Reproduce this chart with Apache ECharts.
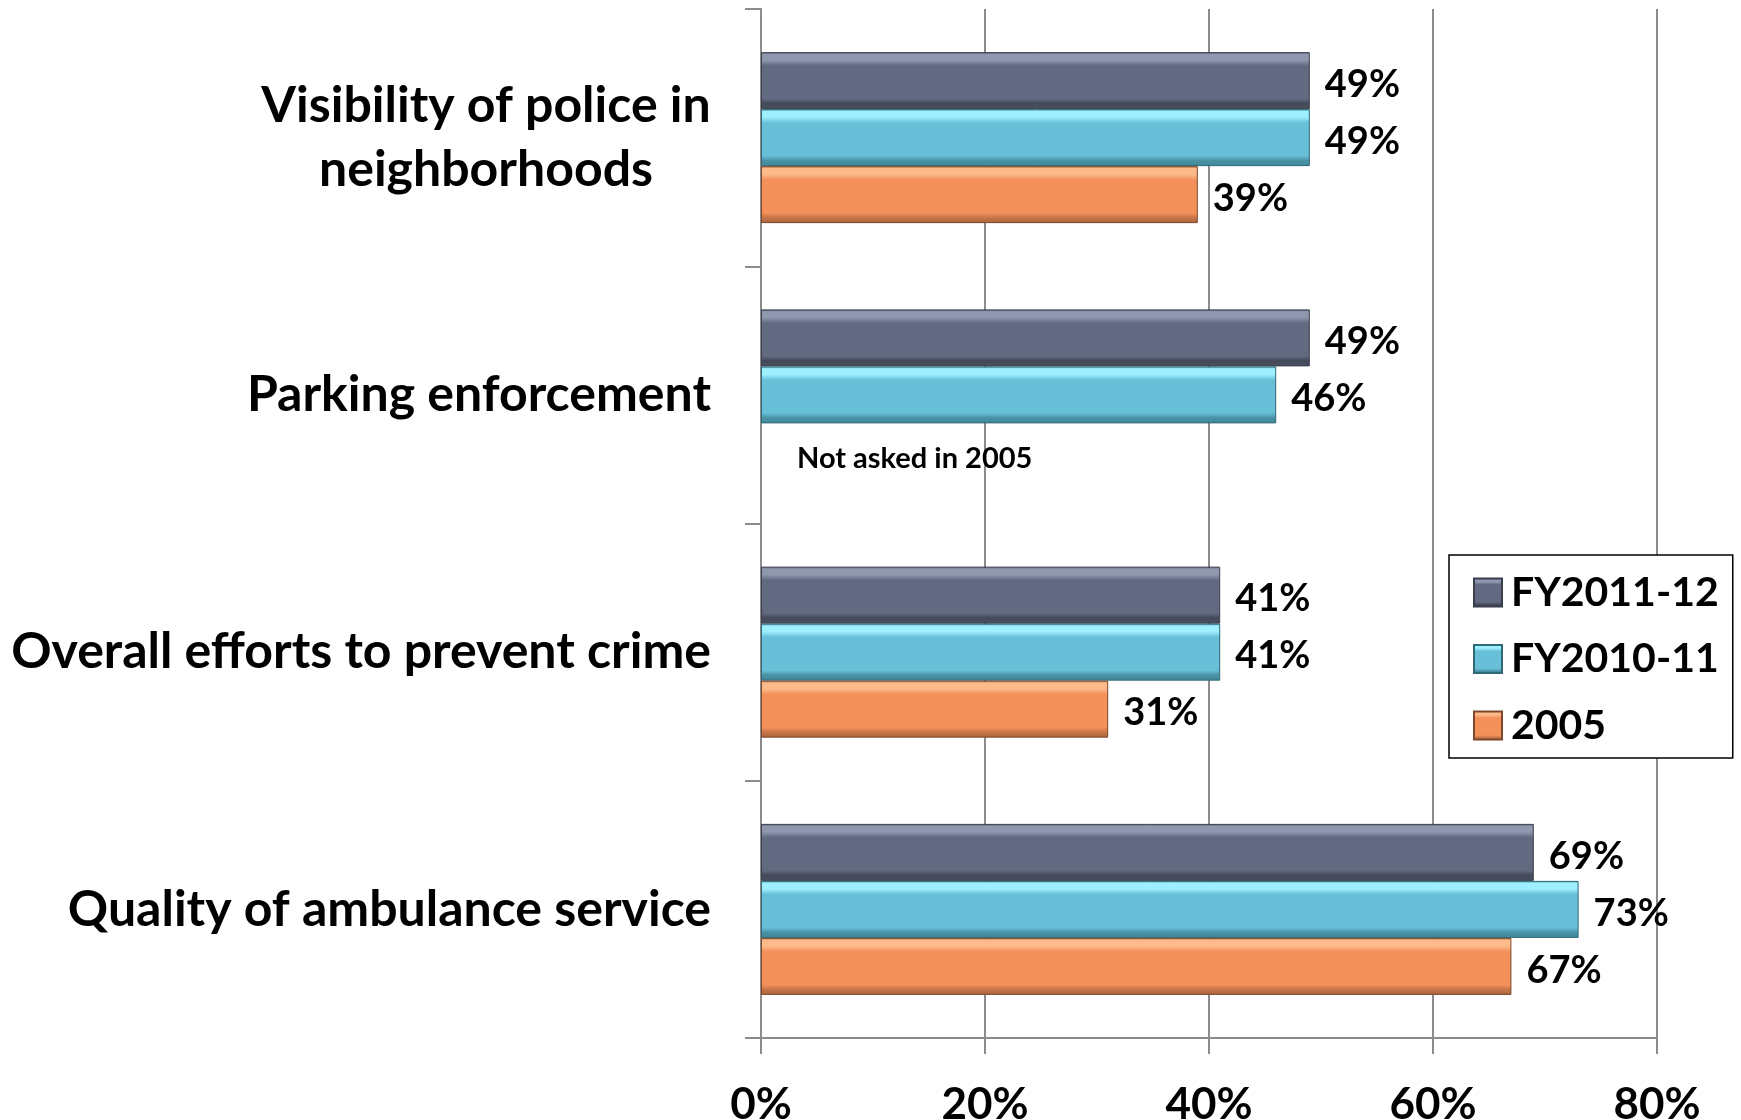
<!DOCTYPE html>
<html>
<head>
<meta charset="utf-8">
<script src="https://cdn.jsdelivr.net/npm/echarts@6/dist/echarts.min.js"></script>
<style>
  html, body { margin: 0; padding: 0; background: #fff; }
  #main { width: 1741px; height: 1120px; }
</style>
</head>
<body>
<div id="main"></div>
<script>
const categories = [
  "Visibility of police in\nneighborhoods",
  "Parking enforcement",
  "Overall efforts to prevent crime",
  "Quality of ambulance service"
];
const seriesNames = ["FY2011-12", "FY2010-11", "2005"];
const fy2011 = [49, 49, 41, 69];
const fy2010 = [49, 46, 41, 73];
const y2005 = [39, null, 31, 67];
const noteText = "Not asked in 2005";

const FONT = "Lato";
const catFontSize = 50;

// width of the first label line, so the wrapped lines get centred on each other
const ctx = document.createElement("canvas").getContext("2d");
ctx.font = "bold " + catFontSize + "px " + FONT;
const firstLineW = Math.ceil(ctx.measureText(categories[0].split("\n")[0]).width);

function bevel(edge, light, base, dark) {
  return new echarts.graphic.LinearGradient(0, 0, 0, 1, [
    { offset: 0, color: edge },
    { offset: 0.04, color: light },
    { offset: 0.14, color: light },
    { offset: 0.24, color: base },
    { offset: 0.82, color: base },
    { offset: 0.9, color: dark },
    { offset: 1, color: edge }
  ]);
}

const colors = [
  bevel("#4a5162", "#9098b0", "#616a80", "#434959"),
  bevel("#3f8799", "#9eefff", "#68bfd8", "#4a93a6"),
  bevel("#a8643c", "#fdbb8c", "#f4915a", "#c9764a")
];
const edgeColors = ["#3a3f4c", "#2f6877", "#7d4729"];

let mychart = echarts.init(document.getElementById("main"));

function makeSeries(i, data) {
  return {
    name: seriesNames[i],
    type: "bar",
    barWidth: 57,
    barGap: "0%",
    itemStyle: {
      color: colors[i],
      borderColor: edgeColors[i],
      borderWidth: 1
    },
    label: {
      show: true,
      position: "right",
      distance: 15,
      offset: [0, 4],
      formatter: "{c}%",
      color: "#000",
      fontFamily: FONT,
      fontWeight: "bold",
      fontSize: 38
    },
    data: data
  };
}

mychart.setOption({
  animation: false,
  backgroundColor: "#fff",
  grid: {
    left: 761,
    right: 84,
    top: 9,
    bottom: 82,
    containLabel: false,
    outerBoundsMode: "none"
  },
  legend: {
    orient: "vertical",
    left: 1449,
    top: 555,
    padding: [17, 14, 12, 24],
    itemGap: 25.5,
    itemWidth: 28,
    itemHeight: 28,
    icon: "rect",
    backgroundColor: "#fff",
    borderColor: "#000",
    borderWidth: 1.5,
    borderRadius: 0,
    data: seriesNames,
    textStyle: {
      color: "#000",
      fontFamily: FONT,
      fontWeight: "bold",
      fontSize: 41,
      lineHeight: 40,
      padding: [0, 0, 0, 4]
    }
  },
  xAxis: {
    type: "value",
    min: 0,
    max: 80,
    interval: 20,
    axisLine: { show: true, lineStyle: { color: "#8c8c8c", width: 2 } },
    axisTick: { show: true, length: 16, lineStyle: { color: "#8c8c8c", width: 2 } },
    splitLine: { show: true, lineStyle: { color: "#8c8c8c", width: 2 } },
    axisLabel: {
      margin: 45,
      formatter: "{value}%",
      color: "#000",
      fontFamily: FONT,
      fontWeight: "bold",
      fontSize: 44
    }
  },
  yAxis: {
    type: "category",
    inverse: true,
    data: categories,
    axisLine: { show: true, lineStyle: { color: "#8c8c8c", width: 2 } },
    axisTick: { show: true, length: 16, lineStyle: { color: "#8c8c8c", width: 2 } },
    splitLine: { show: false },
    axisLabel: {
      margin: 50,
      color: "#000",
      fontFamily: FONT,
      fontWeight: "bold",
      fontSize: catFontSize,
      formatter: function (value) {
        if (value.indexOf("\n") < 0) return value;
        return value.split("\n").map(function (l) { return "{c|" + l + "}"; }).join("\n");
      },
      rich: {
        c: {
          width: firstLineW,
          align: "center",
          lineHeight: 64,
          color: "#000",
          fontFamily: FONT,
          fontWeight: "bold",
          fontSize: catFontSize
        }
      }
    }
  },
  series: [
    makeSeries(0, fy2011),
    makeSeries(1, fy2010),
    makeSeries(2, y2005)
  ]
});

// note in the empty 2005 slot of "Parking enforcement"
const p = mychart.convertToPixel({ gridIndex: 0 }, [0, categories[1]]);
mychart.setOption({
  graphic: [{
    type: "text",
    left: p[0] + 36,
    top: p[1] + 57 - 8,
    style: {
      text: noteText,
      fill: "#000",
      font: "bold 29px " + FONT
    }
  }]
});
</script>
</body>
</html>
